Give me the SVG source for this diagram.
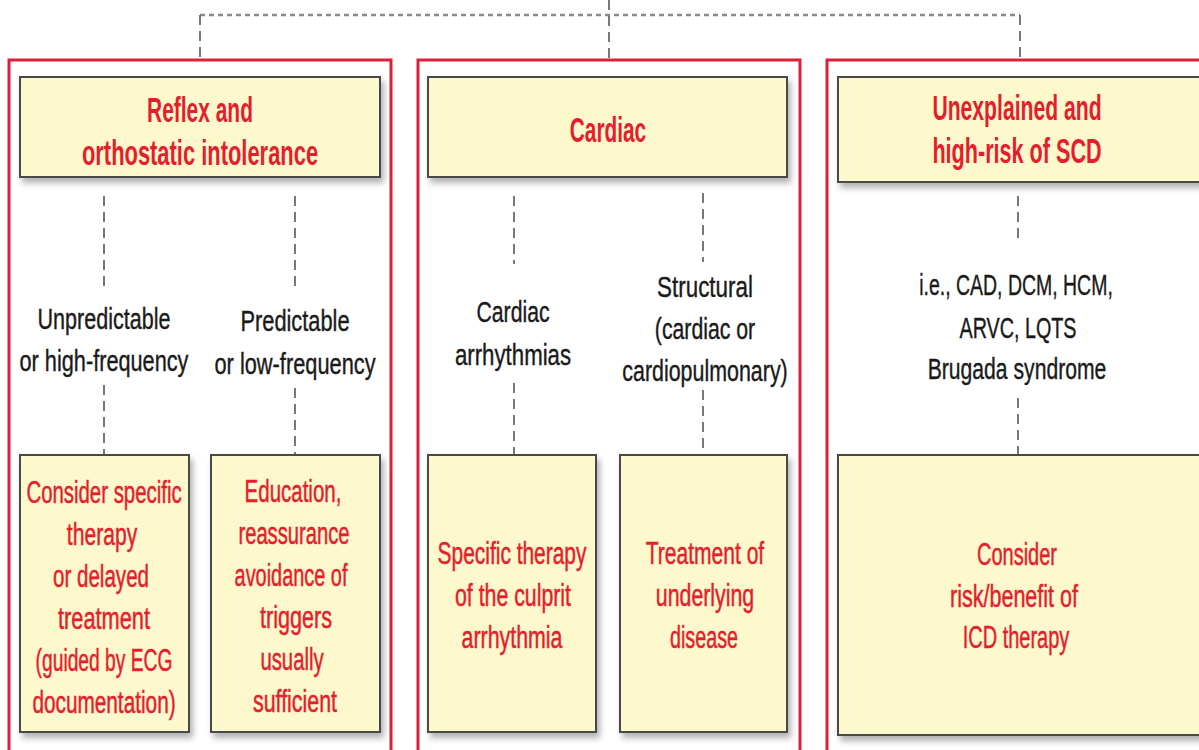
<svg xmlns="http://www.w3.org/2000/svg" width="1199" height="750" viewBox="0 0 1199 750">
<style>
.outer{fill:none;stroke:#dc1f3a;stroke-width:3}
.box{fill:#fef9cd;stroke:#4a4a4a;stroke-width:2}
.t{font-family:"Liberation Sans Narrow","Liberation Sans",Arial,sans-serif;text-anchor:middle}
.title{font-size:36px;font-weight:bold;fill:#e41e2d}
.red{font-size:31px;fill:#e41e2d;stroke:#e41e2d;stroke-width:0.5}
.blk{font-size:30px;fill:#1a1a1a;stroke:#1a1a1a;stroke-width:0.4}
.dot{fill:none;stroke:#8a8a8a;stroke-width:2.5;stroke-dasharray:5 4}
.dash{fill:none;stroke:#6a6a6a;stroke-width:1.8;stroke-dasharray:10 6}
</style>
<defs>
<filter id="sh" x="-10%" y="-10%" width="125%" height="130%">
<feDropShadow dx="3" dy="5" stdDeviation="3" flood-color="#000" flood-opacity="0.3"/>
</filter>
</defs>
<rect width="1199" height="750" fill="#fff"/>
<g id="connectors">
<line class="dot" x1="200" y1="15" x2="1020" y2="15"/>
<line class="dash" x1="609" y1="0" x2="609" y2="59"/>
<line class="dash" x1="200" y1="15" x2="200" y2="58"/>
<line class="dash" x1="1020" y1="15" x2="1020" y2="59"/>
<line class="dash" x1="104" y1="196" x2="104" y2="290"/>
<line class="dash" x1="104" y1="385" x2="104" y2="454"/>
<line class="dash" x1="295" y1="196" x2="295" y2="292"/>
<line class="dash" x1="295" y1="388" x2="295" y2="454"/>
<line class="dash" x1="514" y1="196" x2="514" y2="264"/>
<line class="dash" x1="514" y1="383" x2="514" y2="454"/>
<line class="dash" x1="703" y1="193" x2="703" y2="262"/>
<line class="dash" x1="703" y1="390" x2="703" y2="454"/>
<line class="dash" x1="1018" y1="196" x2="1018" y2="244"/>
<line class="dash" x1="1018" y1="398" x2="1018" y2="454"/>
</g>
<g id="group-reflex">
<rect class="outer" x="9" y="60" width="382" height="700"/>
</g>
<g id="group-cardiac">
<rect class="outer" x="418" y="60" width="382" height="700"/>
</g>
<g id="group-unexplained">
<rect class="outer" x="827" y="60" width="400" height="700"/>
</g>
<g id="title-reflex">
<rect class="box" x="20" y="77" width="360" height="100" filter="url(#sh)"/>
<text class="t title" transform="translate(200 122) scale(0.72 1)" textLength="147" lengthAdjust="spacingAndGlyphs">Reflex and</text>
<text class="t title" transform="translate(200 165) scale(0.72 1)" textLength="328" lengthAdjust="spacingAndGlyphs">orthostatic intolerance</text>
</g>
<g id="title-cardiac">
<rect class="box" x="428" y="77" width="359" height="100" filter="url(#sh)"/>
<text class="t title" transform="translate(608 142) scale(0.72 1)" textLength="106" lengthAdjust="spacingAndGlyphs">Cardiac</text>
</g>
<g id="title-unexplained">
<rect class="box" x="838" y="77" width="370" height="105" filter="url(#sh)"/>
<text class="t title" transform="translate(1017 120) scale(0.72 1)" textLength="235" lengthAdjust="spacingAndGlyphs">Unexplained and</text>
<text class="t title" transform="translate(1017 163) scale(0.72 1)" textLength="235" lengthAdjust="spacingAndGlyphs">high-risk of SCD</text>
</g>
<g id="label-unpredictable">
<text class="t blk" transform="translate(104 329) scale(0.88 1)" textLength="151" lengthAdjust="spacingAndGlyphs">Unpredictable</text>
<text class="t blk" transform="translate(104 371) scale(0.88 1)" textLength="192" lengthAdjust="spacingAndGlyphs">or high-frequency</text>
</g>
<g id="label-predictable">
<text class="t blk" transform="translate(295 331) scale(0.88 1)" textLength="124" lengthAdjust="spacingAndGlyphs">Predictable</text>
<text class="t blk" transform="translate(295 374) scale(0.88 1)" textLength="183" lengthAdjust="spacingAndGlyphs">or low-frequency</text>
</g>
<g id="label-arrhythmias">
<text class="t blk" transform="translate(513 322) scale(0.88 1)" textLength="83" lengthAdjust="spacingAndGlyphs">Cardiac</text>
<text class="t blk" transform="translate(513 365) scale(0.88 1)" textLength="132" lengthAdjust="spacingAndGlyphs">arrhythmias</text>
</g>
<g id="label-structural">
<text class="t blk" transform="translate(705 297) scale(0.88 1)" textLength="109" lengthAdjust="spacingAndGlyphs">Structural</text>
<text class="t blk" transform="translate(705 339) scale(0.88 1)" textLength="114" lengthAdjust="spacingAndGlyphs">(cardiac or</text>
<text class="t blk" transform="translate(705 381) scale(0.88 1)" textLength="188" lengthAdjust="spacingAndGlyphs">cardiopulmonary)</text>
</g>
<g id="label-ie">
<text class="t blk" transform="translate(1016 295) scale(0.88 1)" textLength="220" lengthAdjust="spacingAndGlyphs">i.e., CAD, DCM, HCM,</text>
<text class="t blk" transform="translate(1018 338) scale(0.88 1)" textLength="133" lengthAdjust="spacingAndGlyphs">ARVC, LQTS</text>
<text class="t blk" transform="translate(1017 379) scale(0.88 1)" textLength="203" lengthAdjust="spacingAndGlyphs">Brugada syndrome</text>
</g>
<g id="box-consider-specific">
<rect class="box" x="20" y="455" width="169" height="277" filter="url(#sh)"/>
<text class="t red" transform="translate(104 503) scale(0.8 1)" textLength="194" lengthAdjust="spacingAndGlyphs">Consider specific</text>
<text class="t red" transform="translate(102 545) scale(0.8 1)" textLength="88" lengthAdjust="spacingAndGlyphs">therapy</text>
<text class="t red" transform="translate(101 587) scale(0.8 1)" textLength="120" lengthAdjust="spacingAndGlyphs">or delayed</text>
<text class="t red" transform="translate(104 629) scale(0.8 1)" textLength="115" lengthAdjust="spacingAndGlyphs">treatment</text>
<text class="t red" transform="translate(104 671) scale(0.8 1)" textLength="171" lengthAdjust="spacingAndGlyphs">(guided by ECG</text>
<text class="t red" transform="translate(104 713) scale(0.8 1)" textLength="179" lengthAdjust="spacingAndGlyphs">documentation)</text>
</g>
<g id="box-education">
<rect class="box" x="211" y="455" width="169" height="277" filter="url(#sh)"/>
<text class="t red" transform="translate(293 502) scale(0.8 1)" textLength="121" lengthAdjust="spacingAndGlyphs">Education,</text>
<text class="t red" transform="translate(294 544) scale(0.8 1)" textLength="139" lengthAdjust="spacingAndGlyphs">reassurance</text>
<text class="t red" transform="translate(291 586) scale(0.8 1)" textLength="141" lengthAdjust="spacingAndGlyphs">avoidance of</text>
<text class="t red" transform="translate(296 628) scale(0.8 1)" textLength="90" lengthAdjust="spacingAndGlyphs">triggers</text>
<text class="t red" transform="translate(292 670) scale(0.8 1)" textLength="79" lengthAdjust="spacingAndGlyphs">usually</text>
<text class="t red" transform="translate(295 712) scale(0.8 1)" textLength="105" lengthAdjust="spacingAndGlyphs">sufficient</text>
</g>
<g id="box-specific-therapy">
<rect class="box" x="428" y="455" width="168" height="277" filter="url(#sh)"/>
<text class="t red" transform="translate(512 564) scale(0.8 1)" textLength="186" lengthAdjust="spacingAndGlyphs">Specific therapy</text>
<text class="t red" transform="translate(513 606) scale(0.8 1)" textLength="145" lengthAdjust="spacingAndGlyphs">of the culprit</text>
<text class="t red" transform="translate(512 648) scale(0.8 1)" textLength="126" lengthAdjust="spacingAndGlyphs">arrhythmia</text>
</g>
<g id="box-treatment">
<rect class="box" x="620" y="455" width="167" height="277" filter="url(#sh)"/>
<text class="t red" transform="translate(705 564) scale(0.8 1)" textLength="148" lengthAdjust="spacingAndGlyphs">Treatment of</text>
<text class="t red" transform="translate(705 606) scale(0.8 1)" textLength="123" lengthAdjust="spacingAndGlyphs">underlying</text>
<text class="t red" transform="translate(704 648) scale(0.8 1)" textLength="85" lengthAdjust="spacingAndGlyphs">disease</text>
</g>
<g id="box-icd">
<rect class="box" x="838" y="455" width="370" height="280" filter="url(#sh)"/>
<text class="t red" transform="translate(1017 565) scale(0.8 1)" textLength="100" lengthAdjust="spacingAndGlyphs">Consider</text>
<text class="t red" transform="translate(1014 607) scale(0.8 1)" textLength="160" lengthAdjust="spacingAndGlyphs">risk/benefit of</text>
<text class="t red" transform="translate(1016 648) scale(0.8 1)" textLength="133" lengthAdjust="spacingAndGlyphs">ICD therapy</text>
</g>
</svg>
